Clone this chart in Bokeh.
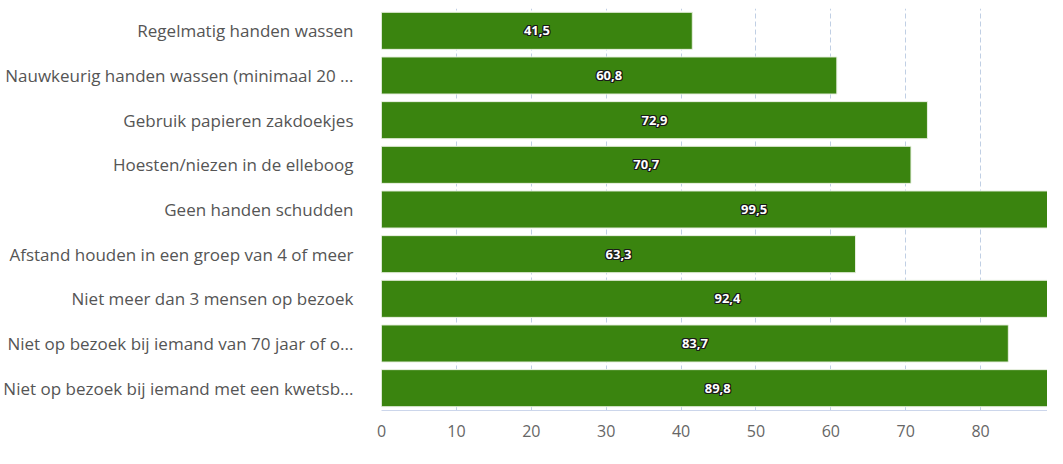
from bokeh.plotting import figure
from bokeh.models import ColumnDataSource, FactorRange, Range1d, FixedTicker
from bokeh.core.properties import value
from bokeh.embed import file_html
from bokeh.resources import INLINE

categories = [
    "Regelmatig handen wassen",
    "Nauwkeurig handen wassen (minimaal 20 ...",
    "Gebruik papieren zakdoekjes",
    "Hoesten/niezen in de elleboog",
    "Geen handen schudden",
    "Afstand houden in een groep van 4 of meer",
    "Niet meer dan 3 mensen op bezoek",
    "Niet op bezoek bij iemand van 70 jaar of o...",
    "Niet op bezoek bij iemand met een kwetsb...",
]
values = [41.5, 60.8, 72.9, 70.7, 99.5, 63.3, 92.4, 83.7, 89.8]
x_ticks = [0, 10, 20, 30, 40, 50, 60, 70, 80]

labels = [f"{v:.1f}".replace(".", ",") for v in values]
mids = [v / 2 for v in values]

src = ColumnDataSource(dict(cat=categories, val=values, mid=mids, lbl=labels))

p = figure(
    width=1047, height=448,
    y_range=FactorRange(factors=list(reversed(categories)), range_padding=0),
    x_range=Range1d(0, 88.93),
    output_backend="svg", toolbar_location=None,
    min_border_left=380, min_border_right=0, min_border_top=8, min_border_bottom=38,
)
p.outline_line_color = None
p.background_fill_color = "white"

p.hbar(y="cat", right="val", left=0, height=0.83, source=src,
       fill_color="#3a840f", line_color="#e8f0e0", line_width=1)

font = value("Open Sans")
for dx, dy in [(-1, 0), (1, 0), (0, -1), (0, 1), (-1, -1), (1, 1), (-1, 1), (1, -1)]:
    p.text(x="mid", y="cat", text="lbl", source=src, x_offset=dx, y_offset=dy,
           text_align="center", text_baseline="middle", text_font=font,
           text_font_size="13px", text_font_style="bold", text_color="#1a1a1a")
p.text(x="mid", y="cat", text="lbl", source=src,
       text_align="center", text_baseline="middle", text_font=font,
       text_font_size="13px", text_font_style="bold", text_color="white")

p.xgrid.ticker = FixedTicker(ticks=[10, 20, 30, 40, 50, 60, 70, 80])
p.xgrid.grid_line_color = "#c0cfe4"
p.xgrid.grid_line_dash = "5 3"
p.xgrid.level = "underlay"
p.ygrid.grid_line_color = None

p.xaxis.ticker = FixedTicker(ticks=x_ticks)
p.xaxis.axis_line_color = "#ccd6eb"
p.xaxis.major_tick_line_color = None
p.xaxis.minor_tick_line_color = None
p.xaxis.major_label_text_font = "Open Sans"
p.xaxis.major_label_text_font_size = "16px"
p.xaxis.major_label_text_color = "#666666"
p.xaxis.major_label_standoff = 8

p.yaxis.axis_line_color = None
p.yaxis.major_tick_line_color = None
p.yaxis.minor_tick_line_color = None
p.yaxis.major_label_text_font = "Open Sans"
p.yaxis.major_label_text_font_size = "17px"
p.yaxis.major_label_text_color = "#555555"
p.yaxis.major_label_standoff = 22

open("out.html", "w").write(file_html(p, INLINE))
